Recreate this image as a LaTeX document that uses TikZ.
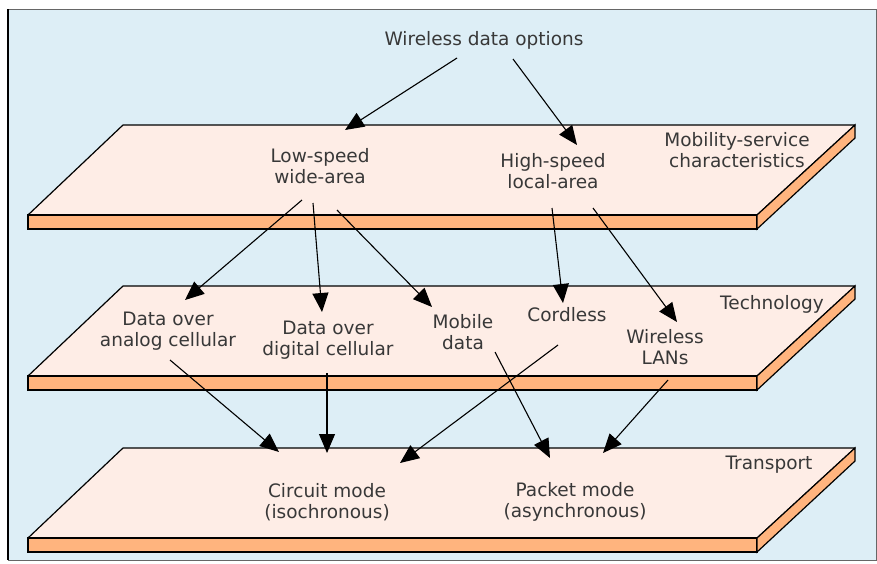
\documentclass[tikz,border=0pt]{standalone}
\usepackage{fontspec}
\setmainfont{DejaVu Sans}
\usetikzlibrary{arrows.meta}
\definecolor{bgblue}{HTML}{DDEEF6}
\definecolor{slabpink}{HTML}{FEEDE6}
\definecolor{slaborange}{HTML}{FFB47E}
\definecolor{labelgray}{HTML}{383838}
\tikzset{
  lbl/.style={align=center, text=labelgray, inner sep=0pt,
    font=\fontsize{18.5}{21.5}\selectfont}, % all texts of the layers
  flow/.style={-{Triangle[length=19pt,width=16pt]}, line width=1.1pt}, % black arrows
  slabface/.style={fill=slabpink, draw=black, line width=1.2pt, line join=round},
  slabedge/.style={fill=slaborange, draw=black, line width=1.2pt},
}
\begin{document}
\begin{tikzpicture}[x=1pt, y=-1pt]
  \useasboundingbox (0,0) rectangle (877,563);
  \fill[white] (0,0) rectangle (877,563);
  \draw[fill=bgblue, draw=black!60] (8,9) rectangle (876,560);
  \draw[line width=1.2pt] (8,9) -- (8,560);

  % the three layers
  \foreach \t in {125,286,448}{
    \draw[slabface] (123,\t) -- (855,\t) -- (757,\t+90) -- (28,\t+90) -- cycle;
    \draw[slabedge] (28,\t+90) rectangle (757,\t+104);
    \draw[slabedge] (757,\t+90) -- (855,\t) -- (855,\t+13) -- (757,\t+104) -- cycle;
    \draw[line width=2.6pt] (28,\t+90) -- (757,\t+90);
  }

  % texts
  \node[lbl] (opts) at (484,40) {Wireless data options};
  \node[lbl] (mobility) at (737,150) {Mobility-service\\characteristics};
  \node[lbl] (lowspeed) at (320,166) {Low-speed\\wide-area};
  \node[lbl] (highspeed) at (553,171) {High-speed\\local-area};

  \node[lbl] (technology) at (772,304) {Technology};
  \node[lbl] (analog) at (168,331) {Data over\\analog cellular};
  \node[lbl] (digital) at (328,340) {Data over\\digital cellular};
  \node[lbl] (mobile) at (463,332) {Mobile\\data};
  \node[lbl] (cordless) at (567,315) {Cordless};
  \node[lbl] (wlan) at (665,347) {Wireless\\LANs};

  \node[lbl] (transport) at (769,465) {Transport};
  \node[lbl] (circuit) at (327,502) {Circuit mode\\(isochronous)};
  \node[lbl] (packet) at (575,502) {Packet mode\\(asynchronous)};

  % arrows, first level
  \draw[flow] ([shift={(-27,18)}]opts.center) -- ([shift={(25,-36)}]lowspeed.center);
  \draw[flow] ([shift={(29,19)}]opts.center) -- ([shift={(24,-26)}]highspeed.center);
  % arrows, second level
  \draw[flow] ([shift={(-18,34)}]lowspeed.center) -- ([shift={(17,-31)}]analog.center);
  \draw[flow] ([shift={(-7,37)}]lowspeed.center) -- ([shift={(-6,-28)}]digital.center);
  \draw[flow] ([shift={(17,44)}]lowspeed.center) -- ([shift={(-31,-25)}]mobile.center);
  \draw[flow] ([shift={(-1,37)}]highspeed.center) -- ([shift={(-4,-12)}]cordless.center);
  \draw[flow] ([shift={(40,37)}]highspeed.center) -- ([shift={(12,-25)}]wlan.center);
  % arrows, third level
  \draw[flow] ([shift={(2,29)}]analog.center) -- ([shift={(-48,-50)}]circuit.center);
  \draw[flow] ([shift={(-1,33)}]digital.center) -- ([shift={(0,-49)}]circuit.center);
  \draw[flow] ([shift={(-9,30)}]cordless.center) -- ([shift={(73,-39)}]circuit.center);
  \draw[flow] ([shift={(32,20)}]mobile.center) -- ([shift={(-25,-44)}]packet.center);
  \draw[flow] ([shift={(3,33)}]wlan.center) -- ([shift={(28,-49)}]packet.center);
\end{tikzpicture}
\end{document}
